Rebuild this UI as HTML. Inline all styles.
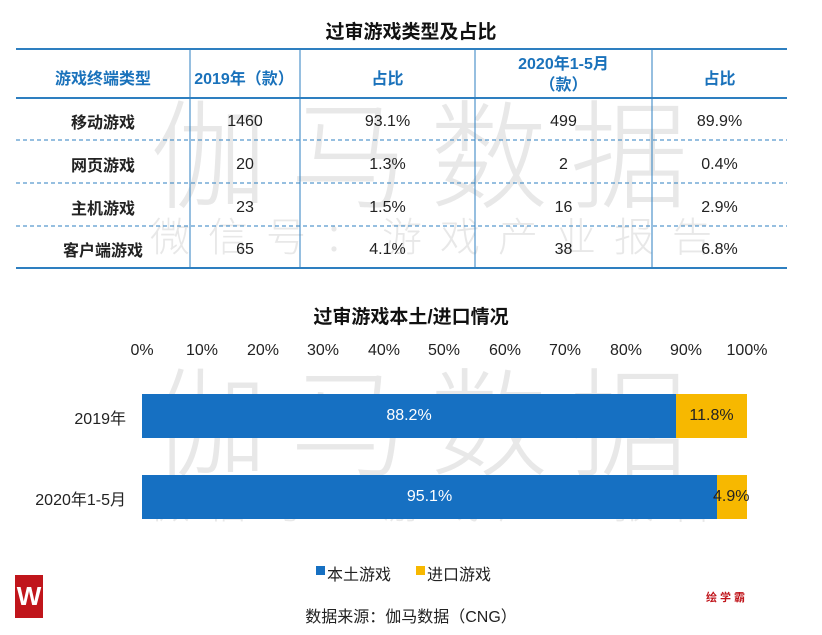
<!DOCTYPE html>
<html><head><meta charset="utf-8"><style>
body{margin:0;width:822px;height:635px;background:#fff;position:relative;overflow:hidden;font-family:"Liberation Sans","Noto Sans CJK SC",sans-serif;}
.a{position:absolute;white-space:nowrap}
.c{text-align:center}
.wm{position:absolute;color:#e8e8e8;white-space:nowrap;font-family:"Noto Sans CJK SC",sans-serif;}
</style></head><body>
<div class="wm" style="left:150px;top:62px;font-size:118px;letter-spacing:22px;font-weight:300">伽马数据</div>
<div class="wm" style="left:150px;top:205px;font-size:40px;letter-spacing:18px;font-weight:300">微信号：游戏产业报告</div>
<div class="wm" style="left:150px;top:330px;font-size:118px;letter-spacing:22px;font-weight:300">伽马数据</div>
<div class="wm" style="left:150px;top:472px;font-size:40px;letter-spacing:18px;font-weight:300">微信号：游戏产业报告</div>

<div class="a c" style="left:0;width:822px;top:17px;font-size:19px;font-weight:bold;color:#111">过审游戏类型及占比</div>
<svg class="a" style="left:0;top:0" width="822" height="280">
<line x1="16" y1="49" x2="787" y2="49" stroke="#2e7fc0" stroke-width="2"/>
<line x1="16" y1="98" x2="787" y2="98" stroke="#2e7fc0" stroke-width="2"/>
<line x1="16" y1="140" x2="787" y2="140" stroke="#2e7fc0" stroke-width="1" stroke-dasharray="4,3"/>
<line x1="16" y1="183" x2="787" y2="183" stroke="#2e7fc0" stroke-width="1" stroke-dasharray="4,3"/>
<line x1="16" y1="226" x2="787" y2="226" stroke="#2e7fc0" stroke-width="1" stroke-dasharray="4,3"/>
<line x1="16" y1="268" x2="787" y2="268" stroke="#2e7fc0" stroke-width="2"/>
<g stroke="#2e7fc0" stroke-width="1"><line x1="190" y1="49" x2="190" y2="268"/><line x1="300" y1="49" x2="300" y2="268"/><line x1="475" y1="49" x2="475" y2="268"/><line x1="652" y1="49" x2="652" y2="268"/></g>
</svg>
<div style="position:absolute;left:0;top:0;font-size:16px">
<div class="a c" style="left:16px;width:174px;top:65px;color:#1a72bb;font-weight:bold">游戏终端类型</div>
<div class="a c" style="left:184px;width:120px;top:65px;color:#1a72bb;font-weight:bold">2019年（款）</div>
<div class="a c" style="left:300px;width:175px;top:65px;color:#1a72bb;font-weight:bold">占比</div>
<div class="a c" style="left:475px;width:177px;top:54px;color:#1a72bb;font-weight:bold;line-height:21px">2020年1-5月<br>（款）</div>
<div class="a c" style="left:652px;width:135px;top:65px;color:#1a72bb;font-weight:bold">占比</div>
</div>
<div style="position:absolute;left:0;top:0;font-size:16px;color:#222">
<div class="a c" style="left:16px;width:174px;top:109px;font-weight:bold">移动游戏</div>
<div class="a c" style="left:16px;width:174px;top:152px;font-weight:bold">网页游戏</div>
<div class="a c" style="left:16px;width:174px;top:195px;font-weight:bold">主机游戏</div>
<div class="a c" style="left:16px;width:174px;top:237px;font-weight:bold">客户端游戏</div>
<div class="a c" style="left:190px;width:110px;top:113px">1460</div>
<div class="a c" style="left:190px;width:110px;top:156px">20</div>
<div class="a c" style="left:190px;width:110px;top:199px">23</div>
<div class="a c" style="left:190px;width:110px;top:241px">65</div>
<div class="a c" style="left:300px;width:175px;top:113px">93.1%</div>
<div class="a c" style="left:300px;width:175px;top:156px">1.3%</div>
<div class="a c" style="left:300px;width:175px;top:199px">1.5%</div>
<div class="a c" style="left:300px;width:175px;top:241px">4.1%</div>
<div class="a c" style="left:475px;width:177px;top:113px">499</div>
<div class="a c" style="left:475px;width:177px;top:156px">2</div>
<div class="a c" style="left:475px;width:177px;top:199px">16</div>
<div class="a c" style="left:475px;width:177px;top:241px">38</div>
<div class="a c" style="left:652px;width:135px;top:113px">89.9%</div>
<div class="a c" style="left:652px;width:135px;top:156px">0.4%</div>
<div class="a c" style="left:652px;width:135px;top:199px">2.9%</div>
<div class="a c" style="left:652px;width:135px;top:241px">6.8%</div>
</div>

<div class="a c" style="left:0;width:822px;top:302px;font-size:19px;font-weight:bold;color:#111">过审游戏本土/进口情况</div>
<div style="position:absolute;left:0;top:342px;font-size:16px;color:#222">
<div class="a c" style="left:112px;width:60px">0%</div><div class="a c" style="left:172px;width:60px">10%</div><div class="a c" style="left:233px;width:60px">20%</div><div class="a c" style="left:293px;width:60px">30%</div><div class="a c" style="left:354px;width:60px">40%</div><div class="a c" style="left:414px;width:60px">50%</div><div class="a c" style="left:475px;width:60px">60%</div><div class="a c" style="left:535px;width:60px">70%</div><div class="a c" style="left:596px;width:60px">80%</div><div class="a c" style="left:656px;width:60px">90%</div><div class="a c" style="left:717px;width:60px">100%</div>
</div>
<div class="a" style="left:142px;top:394px;width:534px;height:44px;background:#1670c2"></div>
<div class="a" style="left:676px;top:394px;width:71px;height:44px;background:#f7b800"></div>
<div class="a" style="left:142px;top:475px;width:575px;height:44px;background:#1670c2"></div>
<div class="a" style="left:717px;top:475px;width:30px;height:44px;background:#f7b800"></div>
<div class="a c" style="left:142px;width:534px;top:407px;font-size:16px;color:#fff">88.2%</div>
<div class="a c" style="left:676px;width:71px;top:407px;font-size:16px;color:#222">11.8%</div>
<div class="a c" style="left:142px;width:575px;top:488px;font-size:16px;color:#fff">95.1%</div>
<div class="a" style="left:713px;top:488px;font-size:16px;color:#222">4.9%</div>
<div class="a" style="right:696px;top:405px;font-size:16px;color:#222">2019年</div>
<div class="a" style="right:696px;top:486px;font-size:16px;color:#222">2020年1-5月</div>

<div class="a" style="left:316px;top:566px;width:9px;height:9px;background:#1670c2"></div>
<div class="a" style="left:327px;top:561px;font-size:16px;color:#222">本土游戏</div>
<div class="a" style="left:416px;top:566px;width:9px;height:9px;background:#f7b800"></div>
<div class="a" style="left:427px;top:561px;font-size:16px;color:#222">进口游戏</div>
<div class="a c" style="left:0;width:822px;top:603px;font-size:16px;color:#222">数据来源：伽马数据（CNG）</div>
<div class="a" style="left:15px;top:575px;width:28px;height:43px;background:#c0151b;color:#fff;font-weight:bold;font-size:26px;text-align:center;line-height:43px">W</div>
<div class="a" style="left:706px;top:589px;font-size:11px;font-weight:bold;color:#c0151b;letter-spacing:3px">绘学霸</div>
</body></html>
